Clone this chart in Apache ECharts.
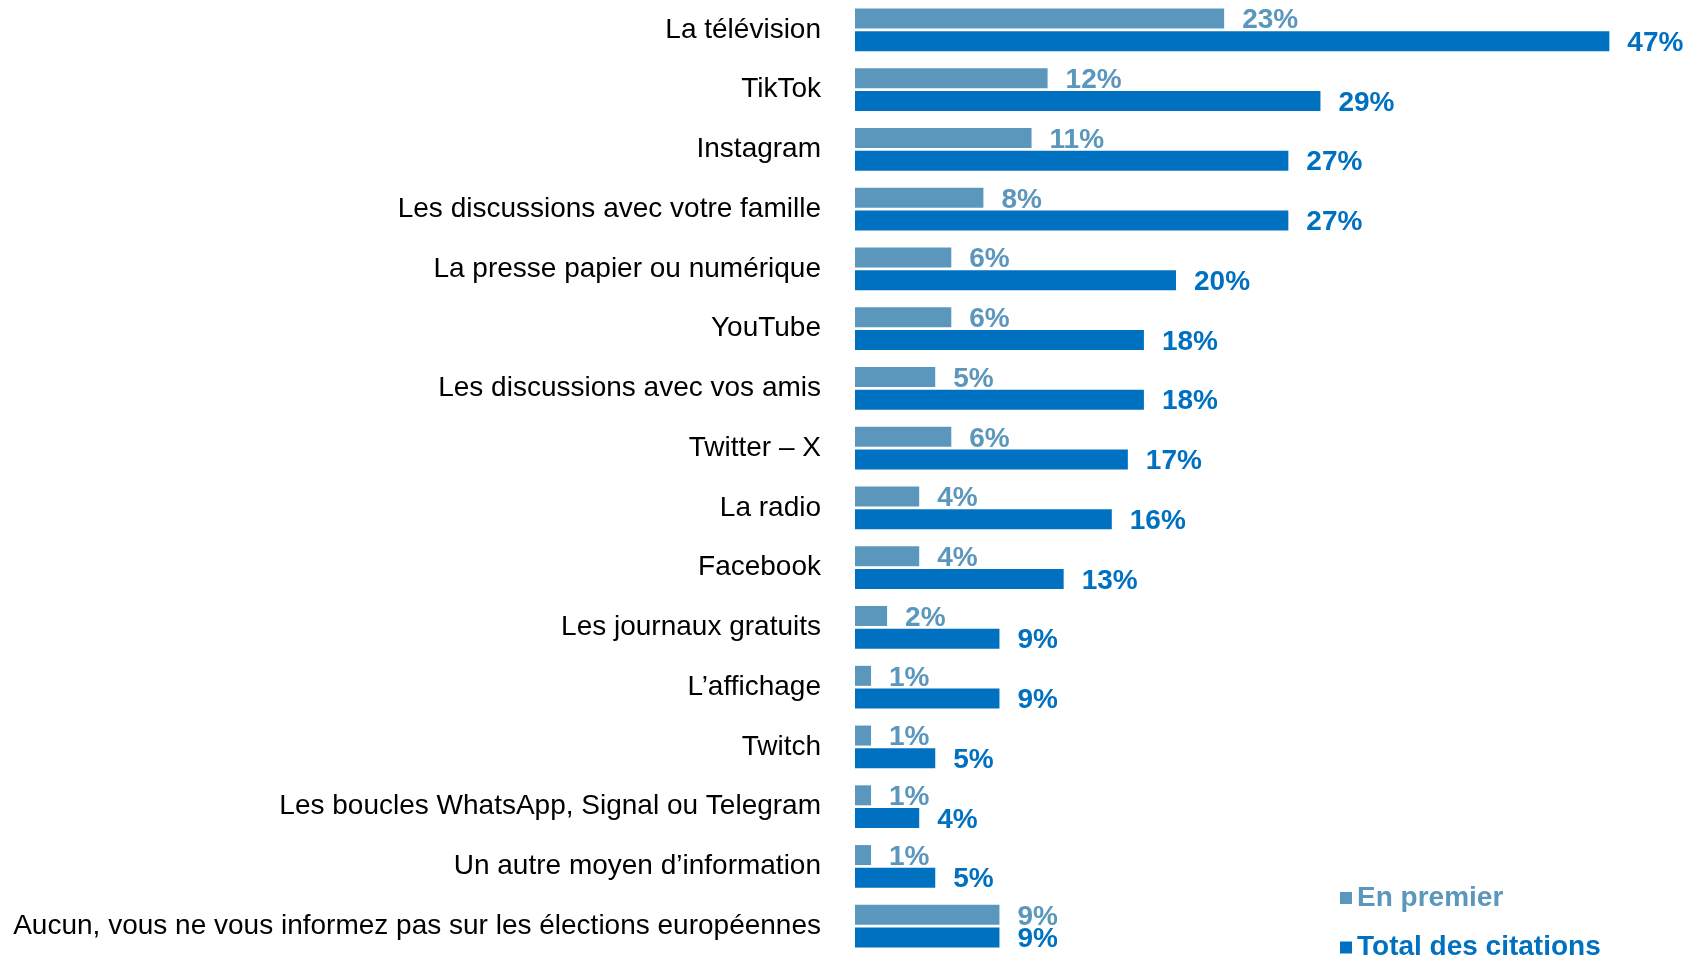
<!DOCTYPE html>
<html>
<head>
<meta charset="utf-8">
<script src="https://cdn.jsdelivr.net/npm/echarts@6/dist/echarts.min.js"></script>
<style>
  html, body { margin: 0; padding: 0; background: #ffffff; }
  #chart { width: 1690px; height: 956px; }
</style>
</head>
<body>
<div id="chart"></div>
<script>
const categories = [
  "La télévision",
  "TikTok",
  "Instagram",
  "Les discussions avec votre famille",
  "La presse papier ou numérique",
  "YouTube",
  "Les discussions avec vos amis",
  "Twitter – X",
  "La radio",
  "Facebook",
  "Les journaux gratuits",
  "L’affichage",
  "Twitch",
  "Les boucles WhatsApp, Signal ou Telegram",
  "Un autre moyen d’information",
  "Aucun, vous ne vous informez pas sur les élections européennes"
];
const enPremier = [23, 12, 11, 8, 6, 6, 5, 6, 4, 4, 2, 1, 1, 1, 1, 9];
const totalCitations = [47, 29, 27, 27, 20, 18, 18, 17, 16, 13, 9, 9, 5, 4, 5, 9];
const seriesNames = ["En premier", "Total des citations"];

const LIGHT = "#5B97BC";
const DARK = "#0070C0";
const FONT = "'Liberation Sans', Arial, Helvetica, sans-serif";

const chart = echarts.init(document.getElementById('chart'), null, { renderer: 'canvas' });
chart.setOption({
  animation: false,
  backgroundColor: '#ffffff',
  grid: { left: 855, right: 32.5, top: -1, bottom: -2, containLabel: false },
  xAxis: {
    type: 'value', min: 0, max: 50,
    show: false,
    splitLine: { show: false }
  },
  yAxis: {
    type: 'category',
    data: categories,
    inverse: true,
    axisLine: { show: false },
    axisTick: { show: false },
    axisLabel: {
      margin: 34,
      color: '#000000',
      fontFamily: FONT,
      fontSize: 28
    }
  },
  legend: {
    orient: 'vertical',
    left: 1340,
    top: 883,
    width: 340,
    height: 150,
    padding: 0,
    itemWidth: 12,
    itemHeight: 12,
    itemGap: 19.5,
    icon: 'rect',
    textStyle: { fontFamily: FONT, fontSize: 28, fontWeight: 'bold', lineHeight: 30 },
    data: [
      { name: seriesNames[0], textStyle: { color: LIGHT } },
      { name: seriesNames[1], textStyle: { color: DARK } }
    ]
  },
  series: [
    {
      name: seriesNames[0],
      type: 'bar',
      data: enPremier,
      barWidth: 20,
      barGap: '13%',
      itemStyle: { color: LIGHT },
      label: {
        show: true, position: 'right', distance: 18, offset: [0, 2],
        formatter: p => p.value + '%',
        color: LIGHT, fontFamily: FONT, fontSize: 28, fontWeight: 'bold'
      }
    },
    {
      name: seriesNames[1],
      type: 'bar',
      data: totalCitations,
      barWidth: 20,
      barGap: '13%',
      itemStyle: { color: DARK },
      label: {
        show: true, position: 'right', distance: 18, offset: [0, 2],
        formatter: p => p.value + '%',
        color: DARK, fontFamily: FONT, fontSize: 28, fontWeight: 'bold'
      }
    }
  ]
});
</script>
</body>
</html>
